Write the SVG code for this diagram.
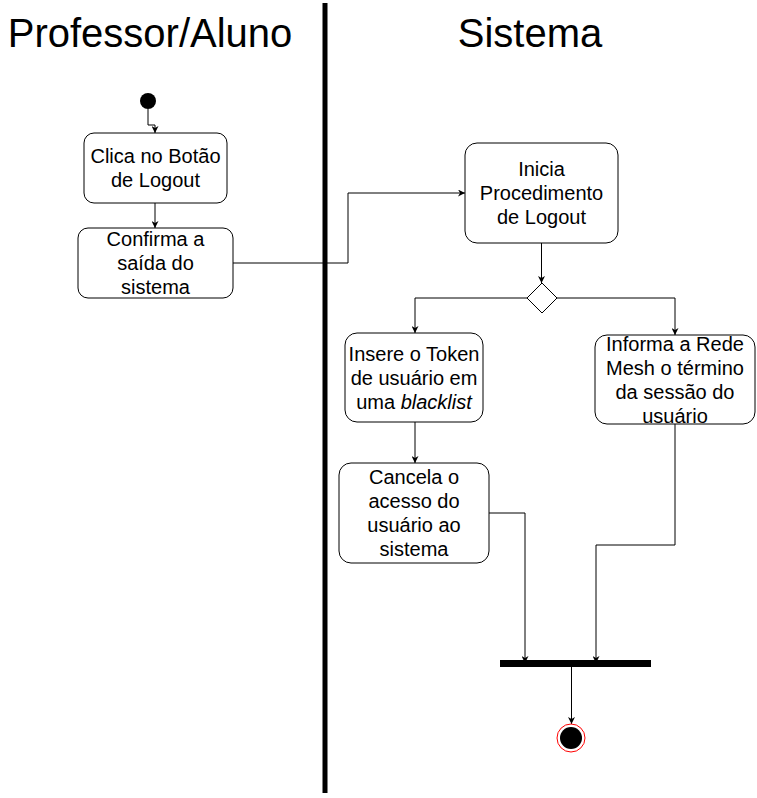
<svg xmlns="http://www.w3.org/2000/svg" width="757" height="798" viewBox="0 0 757 798">
<defs>
<style>
.title{font-family:"Liberation Sans",Arial,sans-serif;font-size:40px;fill:#000;text-anchor:middle}
.lbl{font-family:"Liberation Sans",Arial,sans-serif;font-size:20px;fill:#000;text-anchor:middle}
.box{fill:#fff;stroke:#000;stroke-width:1}
.edge{fill:none;stroke:#000;stroke-width:1}
</style>
<marker id="arr" viewBox="0 0 10 10" refX="10" refY="5" markerWidth="7" markerHeight="7" markerUnits="userSpaceOnUse" orient="auto">
<path d="M0,0 L10,5 L0,10 L3,5 Z" fill="#000"/>
</marker>
</defs>
<rect width="757" height="798" fill="#fff"/>
<g id="lanes">
<text class="title" x="150" y="47">Professor/Aluno</text>
<text class="title" x="530" y="47">Sistema</text>
<line x1="325" y1="3" x2="325" y2="793" stroke="#000" stroke-width="5"/>
</g>
<g id="connectors">
<path class="edge" d="M148,109 V125 H155 V133" marker-end="url(#arr)"/>
<path class="edge" d="M155,203 V228" marker-end="url(#arr)"/>
<path class="edge" d="M233,263 H348 V193 H465" marker-end="url(#arr)"/>
<path class="edge" d="M541.5,243 V283" marker-end="url(#arr)"/>
<path class="edge" d="M527,298 H415 V333" marker-end="url(#arr)"/>
<path class="edge" d="M557,298 H675 V335" marker-end="url(#arr)"/>
<path class="edge" d="M415,422 V463" marker-end="url(#arr)"/>
<path class="edge" d="M489,513 H525 V663" marker-end="url(#arr)"/>
<path class="edge" d="M675,424 V545 H596 V663" marker-end="url(#arr)"/>
<path class="edge" d="M571.5,667 V724" marker-end="url(#arr)"/>
</g>
<g id="start">
<circle cx="148" cy="101" r="8" fill="#000"/>
</g>
<g id="clica">
<rect class="box" x="84" y="133" width="143" height="70" rx="10"/>
<text class="lbl" x="155.5" y="163">Clica no Botão</text>
<text class="lbl" x="155.5" y="187">de Logout</text>
</g>
<g id="confirma">
<rect class="box" x="78" y="228" width="155" height="70" rx="10"/>
<text class="lbl" x="155.5" y="246">Confirma a</text>
<text class="lbl" x="155.5" y="270">saída do</text>
<text class="lbl" x="155.5" y="294">sistema</text>
</g>
<g id="inicia">
<rect class="box" x="465" y="143" width="153" height="100" rx="12"/>
<text class="lbl" x="541.5" y="176">Inicia</text>
<text class="lbl" x="541.5" y="200">Procedimento</text>
<text class="lbl" x="541.5" y="224">de Logout</text>
</g>
<g id="decisao">
<path d="M542,283 L557,298 L542,313 L527,298 Z" fill="#fff" stroke="#000" stroke-width="1"/>
</g>
<g id="insere">
<rect class="box" x="345" y="333" width="138" height="89" rx="12"/>
<text class="lbl" x="414" y="360.5">Insere o Token</text>
<text class="lbl" x="414" y="384.5">de usuário em</text>
<text class="lbl" x="414" y="408.5">uma <tspan font-style="italic">blacklist</tspan></text>
</g>
<g id="informa">
<rect class="box" x="595" y="335" width="160" height="89" rx="12"/>
<text class="lbl" x="675" y="350.5">Informa a Rede</text>
<text class="lbl" x="675" y="374.5">Mesh o término</text>
<text class="lbl" x="675" y="398.5">da sessão do</text>
<text class="lbl" x="675" y="422.5">usuário</text>
</g>
<g id="cancela">
<rect class="box" x="339" y="463" width="150" height="100" rx="12"/>
<text class="lbl" x="414" y="484">Cancela o</text>
<text class="lbl" x="414" y="508">acesso do</text>
<text class="lbl" x="414" y="532">usuário ao</text>
<text class="lbl" x="414" y="556">sistema</text>
</g>
<g id="join">
<rect x="500" y="660" width="151" height="7" fill="#000"/>
</g>
<g id="end">
<circle cx="571" cy="738" r="14" fill="#fff" stroke="#ff0000" stroke-width="1"/>
<circle cx="571" cy="738" r="11" fill="#000"/>
</g>
</svg>
